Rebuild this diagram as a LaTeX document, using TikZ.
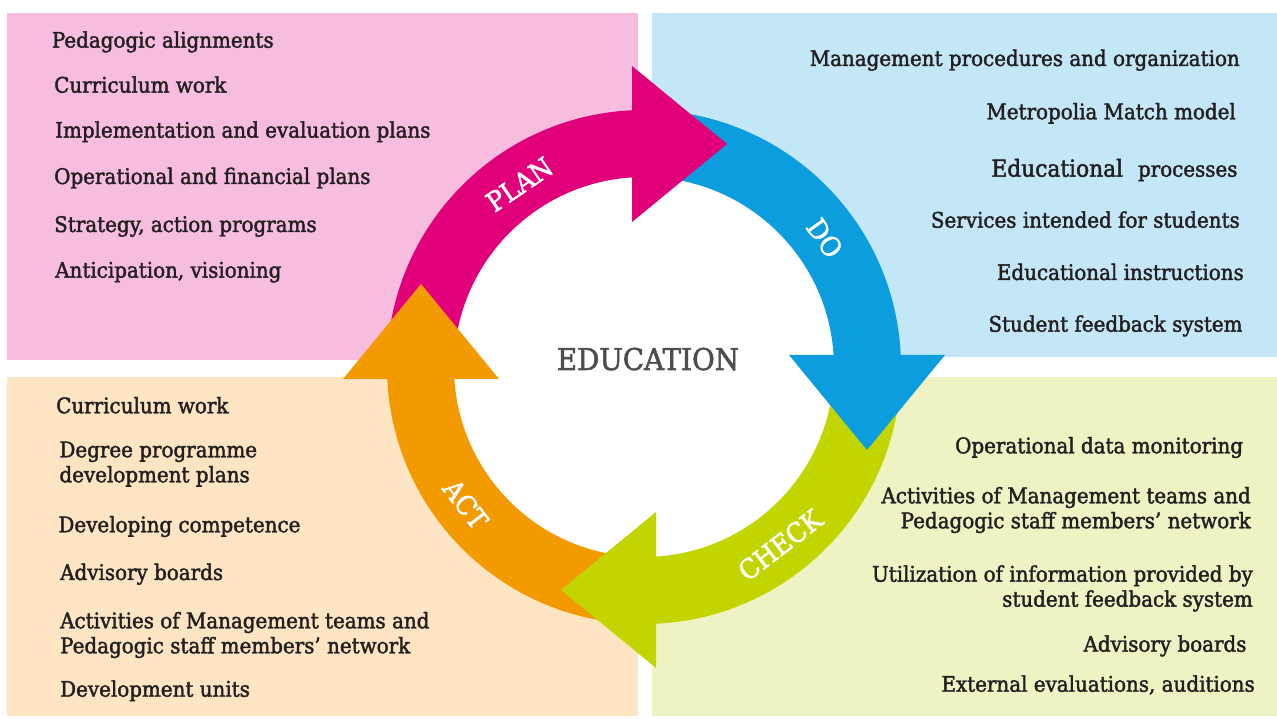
\documentclass[tikz,border=0pt]{standalone}
\usepackage{fontspec}
\setmainfont{DejaVu Serif}[FakeStretch=0.925,FakeBold=1.8]
\usepackage{tikz}
\definecolor{planpanel}{HTML}{F7BDDF}
\definecolor{dopanel}{HTML}{C4E7F8}
\definecolor{checkpanel}{HTML}{EFF3C4}
\definecolor{actpanel}{HTML}{FDE5C3}
\definecolor{planring}{HTML}{E2007A}
\definecolor{doring}{HTML}{0B9DDD}
\definecolor{checkring}{HTML}{C3D500}
\definecolor{actring}{HTML}{F39A00}
\definecolor{itemtext}{HTML}{231F20}
\definecolor{centertext}{HTML}{4D4D4F}

\begin{document}
\begin{tikzpicture}[scale=1.000000,x=1pt,y=1pt,
  item/.style={inner sep=0pt,text=itemtext,font=\fontsize{21.5}{25}\selectfont},
  ringlabel/.style={inner sep=0pt,text=white,font=\fontsize{27}{30}\selectfont}]
\useasboundingbox (0.000000,0.000000) rectangle (1277.000000,719.000000);
\filldraw[color=white] (0.000000,0.000000) rectangle (1277.000000,719.000000);
% Drawing panels
% Panel 1: PLAN
\filldraw[color=planpanel] (7.000000,360.000000) rectangle (637.000000,706.000000);
% Panel 2: DO
\filldraw[color=dopanel] (652.000000,363.000000) rectangle (1277.000000,706.000000);
% Panel 3: CHECK
\filldraw[color=checkpanel] (652.000000,4.000000) rectangle (1277.000000,342.000000);
% Panel 4: ACT
\filldraw[color=actpanel] (7.000000,4.000000) rectangle (637.000000,342.000000);
% Done with panels; drawing ring
\begin{scope}[shift={(644.000000,352.000000)}]
\fill[white] (0,0) circle[radius=190];
% Arc 1: PLAN
\fill[planring] (180:257) arc[start angle=180,end angle=92,radius=257] -- (92:190) arc[start angle=92,end angle=180,radius=190] -- cycle;
% Arc 2: DO
\fill[doring] (90:257) arc[start angle=90,end angle=2,radius=257] -- (2:190) arc[start angle=2,end angle=90,radius=190] -- cycle;
% Arc 3: CHECK
\fill[checkring] (0:257) arc[start angle=0,end angle=-88,radius=257] -- (-88:190) arc[start angle=-88,end angle=0,radius=190] -- cycle;
% Arc 4: ACT
\fill[actring] (-90:257) arc[start angle=-90,end angle=-178,radius=257] -- (-178:190) arc[start angle=-178,end angle=-90,radius=190] -- cycle;
% Done with arcs; drawing heads
\fill[planring] (-12.000000,145.000000) -- (-12.000000,301.000000) -- (83.000000,223.000000) -- cycle;
\fill[doring] (145.000000,12.000000) -- (301.000000,12.000000) -- (223.000000,-83.000000) -- cycle;
\fill[checkring] (12.000000,-145.000000) -- (12.000000,-301.000000) -- (-83.000000,-223.000000) -- cycle;
\fill[actring] (-145.000000,-12.000000) -- (-301.000000,-12.000000) -- (-223.000000,83.000000) -- cycle;
% Done with heads; drawing ring labels
\node[ringlabel,rotate=34.3] (planlabel) at (124.3:221) {PLAN};
\node[ringlabel,rotate=-54.5] (dolabel) at (35.5:222) {DO};
\node[ringlabel,rotate=37.4] (checklabel) at (-52.6:224) {CHECK};
\node[ringlabel,rotate=-52.4] (actlabel) at (217.6:225) {ACT};
\end{scope}
\node[inner sep=0pt,text=centertext,font=\fontsize{30}{34}\selectfont,anchor=base] (education) at (648.000000,349.000000) {EDUCATION};
% Done with ring; drawing panel texts
% Texts 1: PLAN
\node[item,anchor=base west] (plan1) at (51.700000,671.300000) {Pedagogic alignments};
\node[item,anchor=base west] (plan2) at (54.000000,626.300000) {Curriculum work};
\node[item,anchor=base west] (plan3) at (55.000000,581.300000) {Implementation and evaluation plans};
\node[item,anchor=base west] (plan4) at (54.000000,535.000000) {Operational and financial plans};
\node[item,anchor=base west] (plan5) at (54.000000,487.000000) {Strategy, action programs};
\node[item,anchor=base west] (plan6) at (55.000000,441.300000) {Anticipation, visioning};
% Texts 2: DO
\node[item,anchor=base east] (do1) at (1240.000000,653.000000) {Management procedures and organization};
\node[item,anchor=base east] (do2) at (1236.000000,599.700000) {Metropolia Match model};
\node[item,anchor=base east] (do3) at (1237.700000,542.300000) {{\fontsize{23.5}{25}\selectfont Educational}\hspace{0.4em} processes};
\node[item,anchor=base east] (do4) at (1240.000000,491.300000) {Services intended for students};
\node[item,anchor=base east] (do5) at (1244.000000,439.000000) {Educational instructions};
\node[item,anchor=base east] (do6) at (1242.700000,387.300000) {Student feedback system};
% Texts 3: CHECK
\node[item,anchor=base east] (check1) at (1243.300000,265.700000) {Operational data monitoring};
\node[item,anchor=base east,align=right] (check2) at (1251.000000,190.700000) {Activities of Management teams and\\Pedagogic staff members' network};
\node[item,anchor=base east,align=right] (check3) at (1253.000000,112.300000) {Utilization of information provided by\\student feedback system};
\node[item,anchor=base east] (check4) at (1246.700000,67.300000) {Advisory boards};
\node[item,anchor=base east] (check5) at (1255.000000,27.300000) {External evaluations, auditions};
% Texts 4: ACT
\node[item,anchor=base west] (act1) at (56.000000,305.700000) {Curriculum work};
\node[item,anchor=base west,align=left] (act2) at (59.300000,236.700000) {Degree programme\\development plans};
\node[item,anchor=base west] (act3) at (58.300000,186.700000) {Developing competence};
\node[item,anchor=base west] (act4) at (60.000000,139.000000) {Advisory boards};
\node[item,anchor=base west,align=left] (act5) at (60.000000,65.700000) {Activities of Management teams and\\Pedagogic staff members' network};
\node[item,anchor=base west] (act6) at (60.000000,22.300000) {Development units};
% Done with texts
\end{tikzpicture}
\end{document}
